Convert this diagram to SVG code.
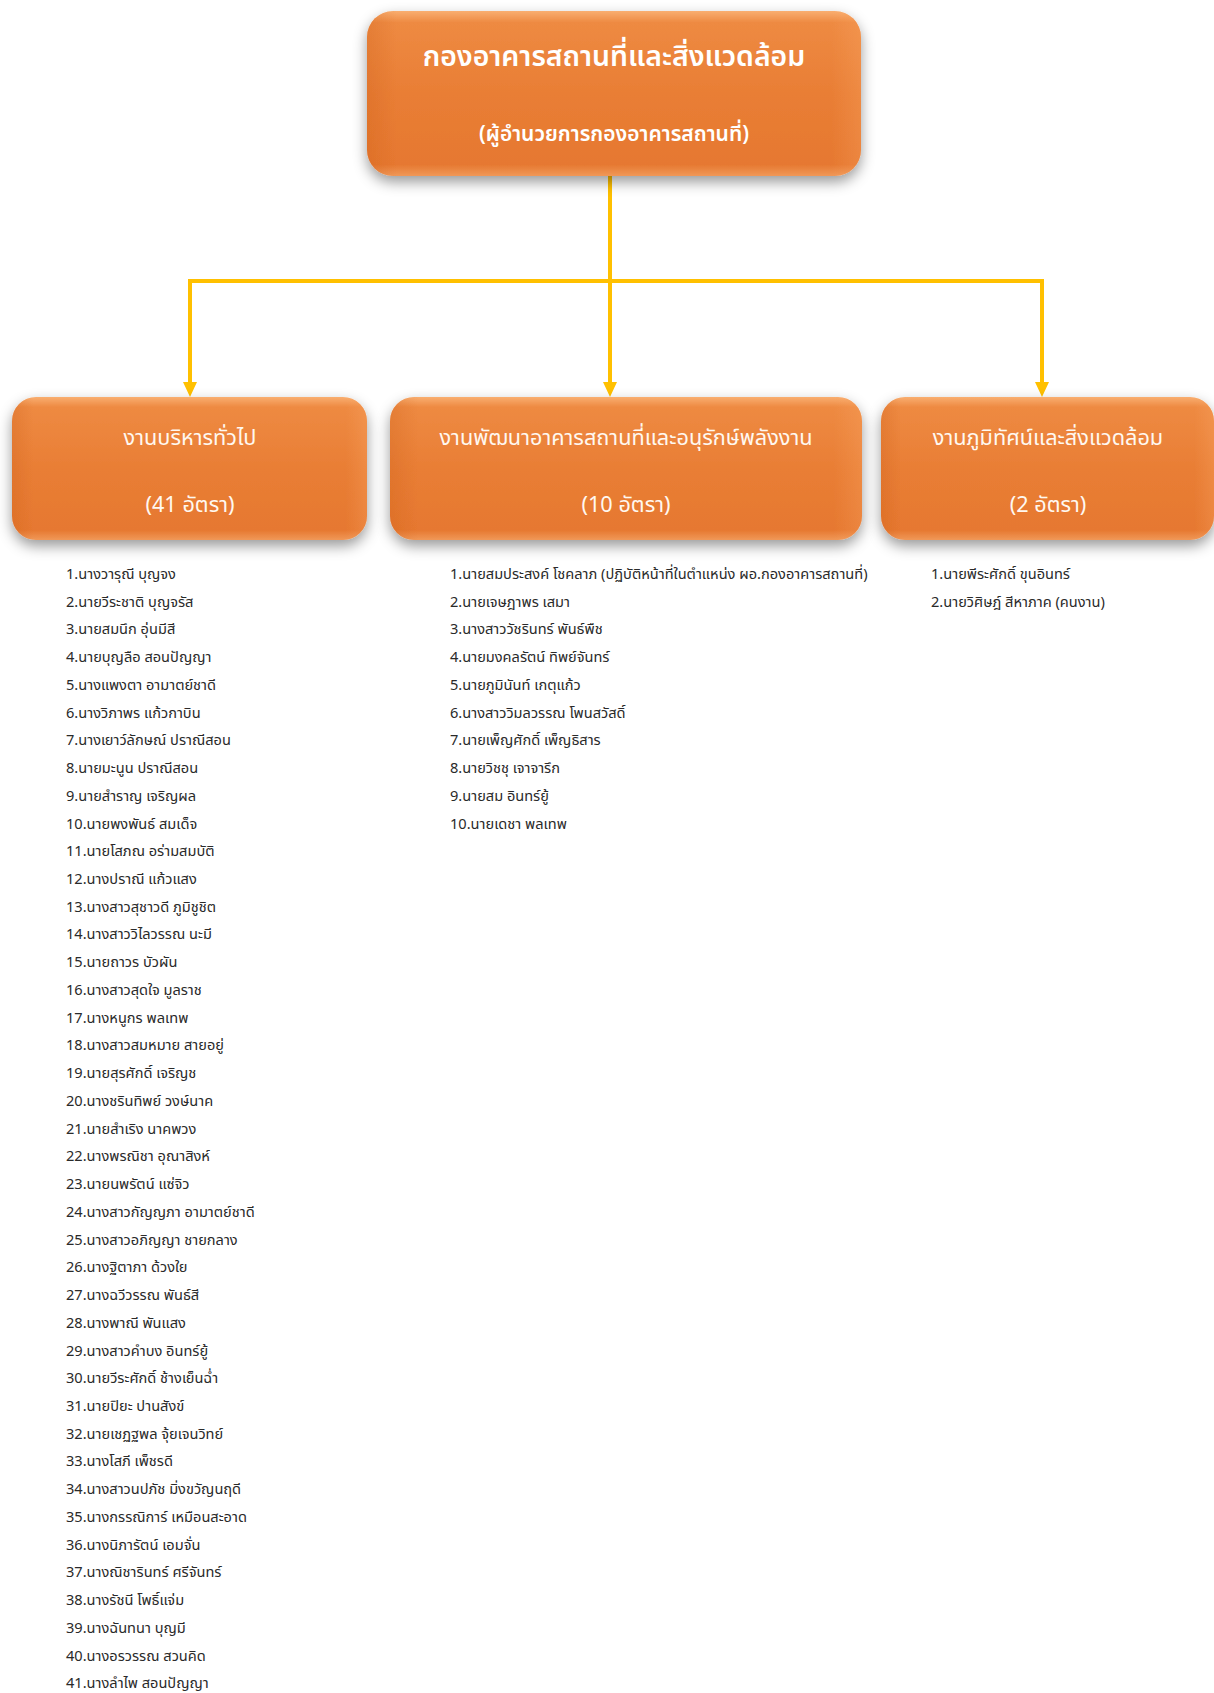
<svg xmlns="http://www.w3.org/2000/svg" width="1214" height="1693" viewBox="0 0 1214 1693" xml:space="preserve">
<style>
.t{font-family:"Noto Sans Thai","Noto Sans Thai UI","Leelawadee UI",Tahoma,"Noto Sans","DejaVu Sans",sans-serif;white-space:pre}
.h{fill:#fff;font-weight:600;text-anchor:middle}
.s{fill:#fff8f0;text-anchor:middle;font-size:21.7px}
.l{fill:#2a2a2a;font-size:14.6px}
.c{fill:none;stroke:#FFC000;stroke-width:4}
</style>
<defs>
<linearGradient id="g" x1="0" y1="0" x2="0" y2="1">
<stop offset="0" stop-color="#F9AE70"/>
<stop offset="0.07" stop-color="#EE8A42"/>
<stop offset="0.5" stop-color="#E97E35"/>
<stop offset="0.93" stop-color="#E67830"/>
<stop offset="1" stop-color="#F09858"/>
</linearGradient>
<linearGradient id="gs" x1="0" y1="0" x2="1" y2="0">
<stop offset="0" stop-color="#C85A15" stop-opacity="0.25"/>
<stop offset="0.06" stop-color="#C85A15" stop-opacity="0"/>
<stop offset="0.94" stop-color="#FFB070" stop-opacity="0"/>
<stop offset="1" stop-color="#FFB070" stop-opacity="0.25"/>
</linearGradient>
<filter id="sh" x="-10%" y="-20%" width="120%" height="150%">
<feGaussianBlur in="SourceAlpha" stdDeviation="7"/>
<feOffset dy="6" result="b"/>
<feFlood flood-color="#000" flood-opacity="0.4"/>
<feComposite in2="b" operator="in"/>
<feMerge><feMergeNode/><feMergeNode in="SourceGraphic"/></feMerge>
</filter>
</defs>
<rect width="1214" height="1693" fill="#fff"/>
<g id="connectors">
<path class="c" d="M610,176 V281 H190 V383"/>
<path class="c" d="M610,176 V383"/>
<path class="c" d="M610,176 V281 H1042 V383"/>
<path d="M183,382 H197 L190,397 Z M603,382 H617 L610,397 Z M1035,382 H1049 L1042,397 Z" fill="#FFC000"/>
</g>
<g id="top">
<g filter="url(#sh)">
<rect x="367" y="11" width="494" height="165" rx="26" fill="url(#g)"/>
<rect x="367" y="11" width="494" height="165" rx="26" fill="url(#gs)"/>
</g>
<text class="t h" x="614" y="66" font-size="28.4">กองอาคารสถานที่และสิ่งแวดล้อม</text>
<text class="t h" x="614" y="141" font-size="21">(ผู้อำนวยการกองอาคารสถานที่)</text>
</g>
<g id="n1">
<g filter="url(#sh)">
<rect x="12" y="397" width="355" height="143" rx="24" fill="url(#g)"/>
<rect x="12" y="397" width="355" height="143" rx="24" fill="url(#gs)"/>
</g>
<text class="t s" x="190" y="445">งานบริหารทั่วไป</text>
<text class="t s" x="190" y="512">(41 อัตรา)</text>
</g>
<g id="n2">
<g filter="url(#sh)">
<rect x="390" y="397" width="472" height="143" rx="24" fill="url(#g)"/>
<rect x="390" y="397" width="472" height="143" rx="24" fill="url(#gs)"/>
</g>
<text class="t s" x="626" y="445">งานพัฒนาอาคารสถานที่และอนุรักษ์พลังงาน</text>
<text class="t s" x="626" y="512">(10 อัตรา)</text>
</g>
<g id="n3">
<g filter="url(#sh)">
<rect x="881" y="397" width="333" height="143" rx="24" fill="url(#g)"/>
<rect x="881" y="397" width="333" height="143" rx="24" fill="url(#gs)"/>
</g>
<text class="t s" x="1048" y="445">งานภูมิทัศน์และสิ่งแวดล้อม</text>
<text class="t s" x="1048" y="512">(2 อัตรา)</text>
</g>
<g id="list1" class="t l">
<text x="66" y="579">1.นางวารุณี  บุญจง</text>
<text x="66" y="607">2.นายวีระชาติ บุญจรัส</text>
<text x="66" y="634">3.นายสมนึก  อุ่นมีสี</text>
<text x="66" y="662">4.นายบุญลือ สอนปัญญา</text>
<text x="66" y="690">5.นางแพงตา  อามาตย์ชาดี</text>
<text x="66" y="718">6.นางวิภาพร  แก้วกาบิน</text>
<text x="66" y="745">7.นางเยาว์ลักษณ์  ปราณีสอน</text>
<text x="66" y="773">8.นายมะนูน  ปราณีสอน</text>
<text x="66" y="801">9.นายสำราญ  เจริญผล</text>
<text x="66" y="829">10.นายพงพันธ์  สมเด็จ</text>
<text x="66" y="856">11.นายโสภณ  อร่ามสมบัติ</text>
<text x="66" y="884">12.นางปราณี  แก้วแสง</text>
<text x="66" y="912">13.นางสาวสุชาวดี  ภูมิชูชิต</text>
<text x="66" y="939">14.นางสาววิไลวรรณ  นะมี</text>
<text x="66" y="967">15.นายถาวร บัวผัน</text>
<text x="66" y="995">16.นางสาวสุดใจ  มูลราช</text>
<text x="66" y="1023">17.นางหนูกร  พลเทพ</text>
<text x="66" y="1050">18.นางสาวสมหมาย  สายอยู่</text>
<text x="66" y="1078">19.นายสุรศักดิ์ เจริญช</text>
<text x="66" y="1106">20.นางชรินทิพย์  วงษ์นาค</text>
<text x="66" y="1134">21.นายสำเริง นาคพวง</text>
<text x="66" y="1161">22.นางพรณิชา  อุณาสิงห์</text>
<text x="66" y="1189">23.นายนพรัตน์  แซ่จิว</text>
<text x="66" y="1217">24.นางสาวกัญญภา อามาตย์ชาดี</text>
<text x="66" y="1245">25.นางสาวอภิญญา  ชายกลาง</text>
<text x="66" y="1272">26.นางฐิตาภา  ด้วงใย</text>
<text x="66" y="1300">27.นางฉวีวรรณ  พันธ์สี</text>
<text x="66" y="1328">28.นางพาณี  พันแสง</text>
<text x="66" y="1356">29.นางสาวคำบง  อินทร์ยู้</text>
<text x="66" y="1383">30.นายวีระศักดิ์  ช้างเย็นฉ่ำ</text>
<text x="66" y="1411">31.นายปิยะ  ปานสังข์</text>
<text x="66" y="1439">32.นายเชฏฐพล  จุ้ยเจนวิทย์</text>
<text x="66" y="1466">33.นางโสภี  เพ็ชรดี</text>
<text x="66" y="1494">34.นางสาวนปภัช  มิ่งขวัญนฤดี</text>
<text x="66" y="1522">35.นางกรรณิการ์  เหมือนสะอาด</text>
<text x="66" y="1550">36.นางนิภารัตน์  เอมจั่น</text>
<text x="66" y="1577">37.นางณิชารินทร์  ศรีจันทร์</text>
<text x="66" y="1605">38.นางรัชนี  โพธิ์แจ่ม</text>
<text x="66" y="1633">39.นางฉันทนา  บุญมี</text>
<text x="66" y="1661">40.นางอรวรรณ  สวนคิด</text>
<text x="66" y="1688">41.นางลำไพ  สอนปัญญา</text>
</g>
<g id="list2" class="t l">
<text x="450" y="579">1.นายสมประสงค์ โชคลาภ (ปฏิบัติหน้าที่ในตำแหน่ง ผอ.กองอาคารสถานที่)</text>
<text x="450" y="607">2.นายเจษฎาพร  เสมา</text>
<text x="450" y="634">3.นางสาววัชรินทร์ พันธ์พืช</text>
<text x="450" y="662">4.นายมงคลรัตน์  ทิพย์จันทร์</text>
<text x="450" y="690">5.นายภูมินันท์  เกตุแก้ว</text>
<text x="450" y="718">6.นางสาววิมลวรรณ  โพนสวัสดิ์</text>
<text x="450" y="745">7.นายเพ็ญศักดิ์  เพ็ญธิสาร</text>
<text x="450" y="773">8.นายวิชชุ  เจาจารึก</text>
<text x="450" y="801">9.นายสม  อินทร์ยู้</text>
<text x="450" y="829">10.นายเดชา  พลเทพ</text>
</g>
<g id="list3" class="t l">
<text x="931" y="579">1.นายพีระศักดิ์  ขุนอินทร์</text>
<text x="931" y="607">2.นายวิศิษฎ์  สีหาภาค (คนงาน)</text>
</g>
</svg>
